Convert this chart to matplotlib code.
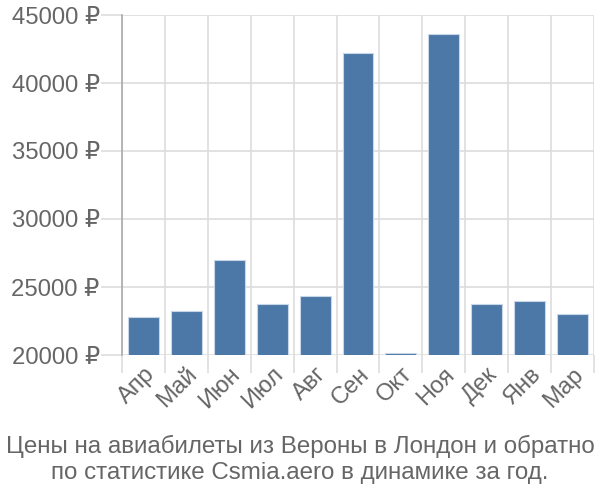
import matplotlib
matplotlib.use("Agg")
import matplotlib.pyplot as plt
import numpy as np

months = ["Апр", "Май", "Июн", "Июл", "Авг", "Сен", "Окт", "Ноя", "Дек", "Янв", "Мар"]
prices = [22770, 23240, 26960, 23770, 24360, 42200, 20150, 43600, 23770, 23970, 23040]
yticks = [20000, 25000, 30000, 35000, 40000, 45000]
title_lines = ["Цены на авиабилеты из Вероны в Лондон и обратно",
               "по статистике Csmia.aero в динамике за год."]

plt.rcParams['font.family'] = ['Liberation Sans', 'DejaVu Sans']
text_color = "#666666"
grid_color = "#dddddd"

fig = plt.figure(figsize=(6, 5), dpi=100)
ax = fig.add_axes([0.2033, 0.29, 0.7867, 0.68])

x = np.arange(len(months))
ax.bar(x, prices, width=0.72, color="#4c78a8", edgecolor="#c8d6e8", linewidth=0.8, zorder=3)

ax.set_xlim(-0.5, len(months) - 0.5)
ax.set_ylim(20000, 45000)

ax.set_yticks(yticks)
ax.set_yticklabels([f"{v} ₽" for v in yticks])
ax.yaxis.grid(True, color=grid_color, linewidth=1.2, zorder=0)

bounds = np.arange(len(months) + 1) - 0.5
ax.set_xticks(bounds, minor=True)
ax.xaxis.grid(True, which='minor', color=grid_color, linewidth=1.2, zorder=0)
ax.set_xticks(x)
ax.set_xticklabels(months, rotation=45, ha='right', rotation_mode='anchor')

ax.tick_params(axis='x', which='major', length=0, pad=6, labelsize=17, labelcolor=text_color)
ax.tick_params(axis='x', which='minor', length=13, width=1.2, color=grid_color)
ax.tick_params(axis='y', length=15, width=1.2, color=grid_color, pad=1, labelsize=17.2, labelcolor=text_color)

for s in ['top', 'right', 'bottom']:
    ax.spines[s].set_visible(False)
ax.spines['left'].set_color("#aaaaaa")
ax.spines['left'].set_linewidth(1.2)
ax.spines['left'].set_bounds(20000, 45000)

fig.text(0.5, 0.108, title_lines[0], ha='center', va='center', fontsize=17.4, color=text_color)
fig.text(0.5, 0.055, title_lines[1], ha='center', va='center', fontsize=17.4, color=text_color)

fig.savefig("out.png", dpi=100)
